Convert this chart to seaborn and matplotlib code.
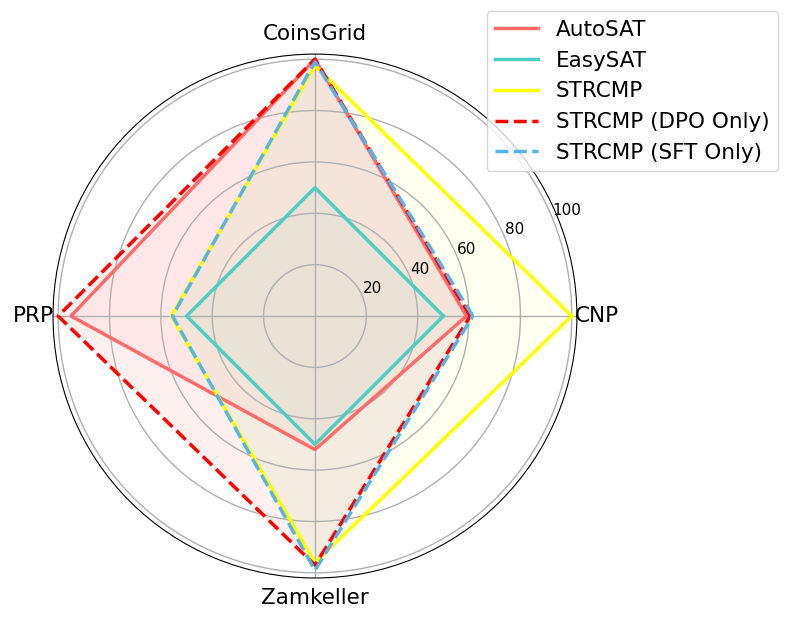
import numpy as np
import pandas as pd
import matplotlib
matplotlib.use("Agg")
import matplotlib.pyplot as plt
import seaborn as sns

# axes go counter-clockwise from the right: CNP, CoinsGrid, PRP, Zamkeller
categories = ["CNP", "CoinsGrid", "PRP", "Zamkeller"]

autosat = [59, 100, 95, 52]
easysat = [50, 50, 50, 50]
strcmp = [100, 97.5, 56, 96]
strcmp_dpo = [60.5, 100, 100, 97]
strcmp_sft = [61.5, 99, 55.5, 99]

models = ["AutoSAT", "EasySAT", "STRCMP", "STRCMP (DPO Only)", "STRCMP (SFT Only)"]
scores = [autosat, easysat, strcmp, strcmp_dpo, strcmp_sft]
colors = ["#FF6B6B", "#4ECDC4", "#FFFF00", "#FF0000", "#56B4E9"]
styles = ["-", "-", "-", "--", "--"]

angles = np.linspace(0, 2 * np.pi, len(categories), endpoint=False)

rows = []
for name, vals in zip(models, scores):
    closed_a = list(angles) + [angles[0]]
    closed_v = list(vals) + [vals[0]]
    for a, v in zip(closed_a, closed_v):
        rows.append({"model": name, "angle": a, "score": v})
df = pd.DataFrame(rows)

fig = plt.figure(figsize=(7.89, 6.21), dpi=100)
ax = fig.add_axes([0.0672, 0.0692, 0.664, 0.8438], projection="polar")

handles = []
for name, col, ls in zip(models, colors, styles):
    sub = df[df["model"] == name]
    sns.lineplot(data=sub, x="angle", y="score", sort=False, estimator=None,
                 color=col, linestyle=ls, linewidth=2.5, label=name, ax=ax)
    ax.fill(sub["angle"], sub["score"], color=col, alpha=0.06)
    handles.append(ax.lines[-1])

ax.set_ylim(0, 102)
ax.set_yticks([20, 40, 60, 80, 100])
ax.set_yticklabels(["20", "40", "60", "80", "100"], fontsize=11)
ax.set_xticks(angles)
ax.set_xticklabels(categories, fontsize=15.5)
ax.tick_params(axis="x", pad=4)
ax.set_xlabel("")
ax.set_ylabel("")
ax.grid(True, color="#b0b0b0", linewidth=1)

ax.get_legend().remove()
fig.legend(handles=handles, labels=models, loc="upper right",
           bbox_to_anchor=(0.986, 0.982), bbox_transform=fig.transFigure,
           borderaxespad=0, fontsize=15.5)

fig.savefig("out.png", dpi=100)
